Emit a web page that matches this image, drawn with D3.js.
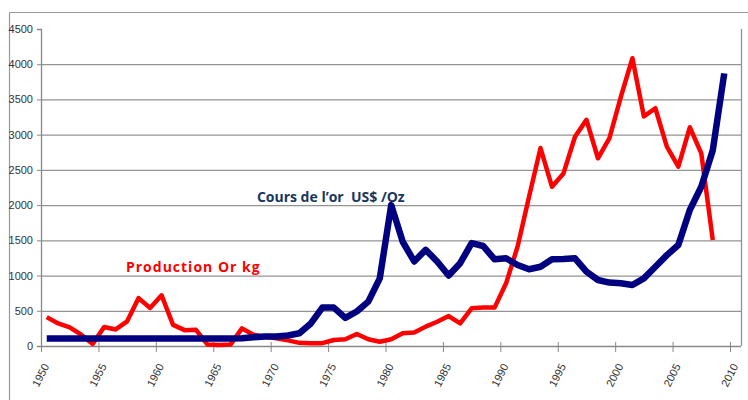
<!DOCTYPE html>
<html>
<head>
<meta charset="utf-8">
<script src="https://cdn.jsdelivr.net/npm/d3@7"></script>
<style>
  body { margin: 0; background: #fff; }
  svg { display: block; }
</style>
</head>
<body>
<svg id="chart" width="748" height="400"></svg>
<script>
// years on the category axis
const years = d3.range(1950, 2010);
const tickYears = [1950, 1955, 1960, 1965, 1970, 1975, 1980, 1985, 1990, 1995, 2000, 2005, 2010];
const yTicks = [0, 500, 1000, 1500, 2000, 2500, 3000, 3500, 4000, 4500];

// Production Or kg (1950 - 2008)
const production = [410, 320, 265, 160, 30, 270, 235, 350, 680, 540,
  720, 300, 225, 230, 20, 15, 20, 250, 160, 130,
  110, 80, 45, 40, 40, 85, 95, 170, 95, 60,
  95, 180, 190, 275, 345, 425, 320, 535, 545, 545,
  890, 1410, 2120, 2810, 2260, 2450, 2970, 3210, 2665, 2950,
  3540, 4085, 3260, 3375, 2830, 2545, 3105, 2735, 1505];

// Cours de l'or US$ /Oz (1950 - 2009)
const cours = [105, 105, 105, 105, 105, 105, 105, 105, 105, 105,
  105, 105, 105, 105, 105, 105, 105, 110, 125, 135,
  135, 150, 180, 320, 545, 545, 400, 490, 630, 960,
  2000, 1480, 1200, 1365, 1200, 1000, 1175, 1460, 1420, 1230,
  1245, 1150, 1090, 1125, 1230, 1235, 1245, 1055, 937, 900,
  890, 866, 960, 1125, 1290, 1434, 1930, 2260, 2780, 3870];

const svg = d3.select('#chart');
const margin = { top: 29, right: 7, bottom: 54, left: 41 };
const width = +svg.attr('width');
const height = +svg.attr('height');
const innerWidth = width - margin.left - margin.right;
const innerHeight = height - margin.top - margin.bottom;
const axisEnd = 689; // where 2010 sits, the plot area goes a bit further

// outer frame (top and left edges)
svg.append('line')
  .attr('x1', 9.5).attr('x2', width).attr('y1', 12.5).attr('y2', 12.5)
  .attr('stroke', '#999').attr('stroke-width', 1.2);
svg.append('line')
  .attr('x1', 9.5).attr('x2', 9.5).attr('y1', 12.5).attr('y2', height)
  .attr('stroke', '#999').attr('stroke-width', 1.2);

const g = svg.append('g')
  .attr('transform', `translate(${margin.left},${margin.top})`);

const x = d3.scaleLinear().domain([1950, 2010]).range([0, axisEnd]);
const y = d3.scaleLinear().domain([0, 4500]).range([innerHeight, 0]);

// gridlines
g.append('g')
  .selectAll('line')
  .data(yTicks.filter(d => d > 0 && d < 4500)).enter()
  .append('line')
  .attr('x1', 0).attr('x2', innerWidth)
  .attr('y1', d => y(d) + 0.5).attr('y2', d => y(d) + 0.5)
  .attr('stroke', '#939393')
  .attr('stroke-width', 1.3);

// right border of plot area
g.append('line')
  .attr('x1', innerWidth + 0.5).attr('x2', innerWidth + 0.5)
  .attr('y1', 0).attr('y2', innerHeight)
  .attr('stroke', '#939393')
  .attr('stroke-width', 1.3);

// y axis
const yAxis = g.append('g')
  .call(d3.axisLeft(y).tickValues(yTicks).tickSize(4).tickPadding(4).tickFormat(d3.format('d')));
yAxis.select('.domain').attr('stroke', '#888').attr('stroke-width', 1.3);
yAxis.selectAll('.tick line').attr('stroke', '#888');
yAxis.selectAll('text')
  .attr('fill', '#333')
  .style('font-family', 'Liberation Sans Narrow, Liberation Sans, sans-serif')
  .style('font-size', '11px');

// x axis
const xAxis = g.append('g')
  .attr('transform', `translate(0,${innerHeight})`)
  .call(d3.axisBottom(x).tickValues(tickYears).tickSize(6).tickSizeOuter(0).tickFormat(d3.format('d')));
xAxis.select('.domain').attr('stroke', '#888').attr('stroke-width', 1.3)
  .attr('d', `M0,0.5H${innerWidth}`);
xAxis.selectAll('.tick line').attr('stroke', '#888').attr('y1', -4);
xAxis.selectAll('text')
  .attr('fill', '#333')
  .attr('text-anchor', 'end')
  .attr('transform', 'translate(8,20) rotate(-63)')
  .attr('dy', 0)
  .attr('y', 0)
  .style('font-family', 'Liberation Sans, sans-serif')
  .style('font-size', '11px');

const line = d3.line()
  .x((d, i) => x(years[i] + 0.5))
  .y(d => y(d));

g.append('path')
  .datum(production)
  .attr('fill', 'none')
  .attr('stroke', '#ff0000')
  .attr('stroke-width', 4.5)
  .attr('stroke-linejoin', 'round')
  .attr('d', line);

g.append('path')
  .datum(cours)
  .attr('fill', 'none')
  .attr('stroke', '#000080')
  .attr('stroke-width', 6.5)
  .attr('stroke-linejoin', 'round')
  .attr('d', line);

// series labels
g.append('text')
  .attr('x', x(1968.8)).attr('y', y(2050))
  .attr('fill', '#17375e')
  .style('font-family', 'Open Sans, sans-serif')
  .style('font-weight', 'bold')
  .style('font-size', '14px')
  .style('white-space', 'pre')
  .text('Cours de l\u2019or  US$ /Oz');

g.append('text')
  .attr('x', x(1957.4)).attr('y', y(1050))
  .attr('fill', '#ff0000')
  .style('font-family', 'Open Sans, sans-serif')
  .style('font-weight', 'bold')
  .style('font-size', '14px')
  .style('letter-spacing', '1px')
  .text('Production Or kg');
</script>
</body>
</html>
